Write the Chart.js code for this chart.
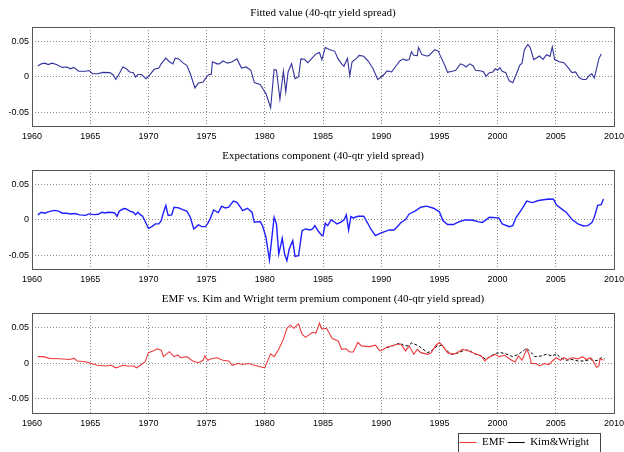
<!DOCTYPE html>
<html>
<head>
<meta charset="utf-8">
<script src="https://cdn.jsdelivr.net/npm/chart.js@4.4.1/dist/chart.umd.min.js"></script>
<style>
  html, body { margin: 0; padding: 0; background: #fff; overflow: hidden; width: 624px; height: 452px; }
  canvas { position: absolute; left: 0; }
</style>
</head>
<body>
<canvas id="c1" width="624" height="150" style="top:0px"></canvas>
<canvas id="c2" width="624" height="150" style="top:143px"></canvas>
<canvas id="c3" width="624" height="172" style="top:286px"></canvas>
<script>
// axis ticks
var xTickValues = [1960, 1965, 1970, 1975, 1980, 1985, 1990, 1995, 2000, 2005, 2010];
var yTickValues = [-0.05, 0, 0.05];
var yTickLabels = ['-0.05', '0', '0.05'];

// panel 1: fitted value
var fittedYears = [
  1960.5,1960.8,1961.1,1961.4,1961.7,1962.1,1962.6,1963.0,1963.3,1963.6,
  1964.0,1964.6,1964.9,1965.2,1965.6,1966.1,1966.7,1967.0,1967.2,1967.5,
  1967.8,1968.1,1968.4,1968.7,1968.9,1969.1,1969.4,1969.8,1970.1,1970.5,
  1970.9,1971.1,1971.5,1971.8,1972.1,1972.3,1972.6,1973.0,1973.3,1973.6,
  1974.0,1974.3,1974.7,1975.0,1975.2,1975.4,1975.5,1975.9,1976.1,1976.4,
  1976.8,1977.2,1977.6,1978.0,1978.4,1978.8,1979.1,1979.6,1979.9,1980.1,
  1980.5,1980.8,1981.0,1981.3,1981.6,1981.8,1982.0,1982.3,1982.6,1982.9,
  1983.1,1983.4,1983.7,1984.0,1984.4,1984.7,1984.9,1985.2,1985.6,1986.0,
  1986.3,1986.6,1986.8,1987.1,1987.3,1987.5,1987.9,1988.1,1988.5,1988.9,
  1989.3,1989.7,1990.0,1990.3,1990.5,1990.9,1991.2,1991.6,1991.9,1992.1,
  1992.4,1992.6,1992.8,1993.1,1993.2,1993.5,1993.9,1994.1,1994.6,1994.9,
  1995.2,1995.5,1995.7,1996.1,1996.4,1996.8,1997.1,1997.3,1997.6,1997.9,
  1998.1,1998.6,1998.8,1999.0,1999.3,1999.6,1999.8,2000.0,2000.2,2000.4,
  2000.7,2001.0,2001.3,2001.6,2001.9,2002.1,2002.3,2002.6,2002.8,2003.1,
  2003.4,2003.6,2003.9,2004.2,2004.5,2004.7,2004.9,2005.3,2005.7,2006.0,
  2006.4,2006.7,2007.0,2007.3,2007.6,2007.9,2008.1,2008.3,2008.5,2008.7,2008.9
];
var fittedValues = [
  0.015,0.018,0.019,0.017,0.019,0.017,0.013,0.0136,0.011,0.013,
  0.0075,0.0075,0.0085,0.004,0.004,0.006,0.0056,0.002,-0.004,0.004,
  0.0136,0.011,0.0066,0.0056,-0.0005,0.003,0.003,-0.003,0.002,0.0103,
  0.012,0.018,0.026,0.021,0.018,0.026,0.025,0.019,0.016,0.004,
  -0.016,-0.009,-0.0075,-0.0005,0.003,0.003,0.021,0.018,0.018,0.022,
  0.019,0.021,0.025,0.012,0.0136,0.009,-0.0085,-0.011,-0.019,-0.024,
  -0.044,0.01,0.009,-0.032,0.0075,-0.0216,0.0066,0.018,-0.003,-0.0005,
  0.025,0.0244,0.0197,0.025,0.032,0.034,0.024,0.041,0.038,0.036,
  0.025,0.018,0.0146,0.026,0.0014,0.021,0.026,0.030,0.0286,0.0216,
  0.011,-0.004,-0.0005,0.004,0.008,0.0066,0.0136,0.022,0.025,0.023,
  0.024,0.035,0.030,0.0296,0.041,0.031,0.029,0.0296,0.038,0.036,
  0.025,0.0146,0.006,0.0075,0.009,0.018,0.016,0.0136,0.018,0.015,
  0.009,0.008,0.0066,0.0005,0.0056,0.0066,0.011,0.009,0.0127,0.0075,
  0.0056,-0.006,-0.0085,0.003,0.016,0.019,0.038,0.0455,0.041,0.024,
  0.027,0.029,0.0244,0.031,0.0286,0.042,0.024,0.021,0.0197,0.0136,
  0.0056,0.0066,-0.0014,-0.004,-0.004,0.002,0.004,-0.002,0.011,0.025,0.032
];

// panel 2: expectations component
var expectYears = [
  1960.5,1960.8,1961.1,1961.4,1961.9,1962.3,1962.6,1963.0,1963.3,1963.7,
  1964.1,1964.6,1964.9,1965.3,1965.7,1966.0,1966.3,1966.5,1966.9,1967.1,
  1967.3,1967.5,1967.9,1968.1,1968.4,1968.7,1968.9,1969.1,1969.3,1969.5,
  1969.8,1970.0,1970.3,1970.6,1970.9,1971.1,1971.3,1971.5,1971.7,1972.0,
  1972.2,1972.6,1973.0,1973.3,1973.6,1973.9,1974.3,1974.6,1974.9,1975.1,
  1975.3,1975.6,1976.0,1976.3,1976.6,1976.9,1977.3,1977.6,1977.9,1978.1,
  1978.5,1978.9,1979.1,1979.6,1979.8,1980.1,1980.4,1980.8,1981.0,1981.2,
  1981.5,1981.7,1981.9,1982.1,1982.4,1982.6,1982.9,1983.2,1983.5,1983.9,
  1984.1,1984.3,1984.6,1984.9,1985.0,1985.2,1985.4,1985.7,1985.9,1986.2,1986.5,
  1986.8,1987.0,1987.2,1987.4,1987.6,1988.0,1988.3,1988.5,1988.8,1989.1,
  1989.5,1989.9,1990.3,1990.7,1991.1,1991.5,1991.7,1992.1,1992.4,1992.9,
  1993.4,1993.9,1994.5,1995.0,1995.3,1995.7,1996.2,1996.7,1997.2,1997.9,
  1998.4,1998.7,1999.3,2000.1,2000.4,2001.0,2001.3,2001.6,2002.1,2002.5,
  2003.0,2003.5,2004.4,2004.8,2005.05,2005.6,2005.9,2006.4,2006.9,2007.4,
  2007.75,2008.1,2008.3,2008.6,2008.9,2009.1
];
var expectValues = [
  0.0066,0.0104,0.009,0.011,0.013,0.012,0.009,0.009,0.008,0.0085,
  0.0066,0.006,0.008,0.007,0.0075,0.0104,0.0094,0.0104,0.010,0.0094,
  0.0047,0.012,0.0156,0.015,0.012,0.0104,0.007,0.0104,0.007,0.0047,
  -0.0052,-0.0123,-0.0099,-0.006,-0.006,-0.0014,0.0104,0.0198,0.0057,0.0066,
  0.0175,0.0165,0.0137,0.012,0.0033,-0.0132,-0.0075,-0.0099,-0.0099,-0.0052,
  0.001,0.0137,0.010,0.019,0.0165,0.0175,0.026,0.0245,0.0175,0.0127,
  0.016,0.0104,-0.0038,-0.0028,-0.0085,-0.025,-0.057,0.0033,-0.006,-0.0486,
  -0.0264,-0.0486,-0.058,-0.0415,-0.0297,-0.052,-0.051,-0.0156,-0.0132,-0.0146,
  -0.0132,-0.0085,-0.0165,-0.0226,-0.0226,-0.0052,-0.0085,-0.0005,-0.0024,-0.006,-0.0038,
  -0.0005,0.0066,-0.0146,0.0042,0.0024,0.0047,0.0047,0.0047,-0.0038,-0.0132,
  -0.0226,-0.0193,-0.017,-0.0146,-0.0146,-0.008,-0.004,0.0,0.008,0.012,
  0.0175,0.019,0.016,0.011,-0.0014,-0.007,-0.007,-0.003,-0.0005,-0.001,
  -0.0033,-0.004,0.0033,0.0024,-0.006,-0.010,-0.0085,0.0033,0.015,0.026,
  0.024,0.027,0.029,0.0288,0.021,0.0137,0.0104,0.0,-0.006,-0.009,
  -0.0085,-0.004,0.003,0.020,0.021,0.029
];

// panel 3: EMF term premium
var emfYears = [
  1960.5,1961.0,1961.5,1962.4,1963.2,1963.6,1963.9,1964.6,1965.1,1965.6,
  1966.3,1966.8,1967.2,1967.5,1967.8,1968.2,1968.7,1969.0,1969.4,1969.7,
  1970.0,1970.4,1970.75,1971.1,1971.3,1971.8,1972.2,1972.5,1972.8,1973.3,
  1973.8,1974.3,1974.7,1974.85,1975.1,1975.4,1975.9,1976.4,1976.9,1977.2,
  1977.7,1978.1,1978.6,1979.1,1979.6,1980.0,1980.2,1980.5,1980.8,1981.2,
  1981.6,1981.9,1982.2,1982.5,1982.7,1982.9,1983.2,1983.5,1984.1,1984.4,
  1984.7,1984.9,1985.3,1985.8,1986.3,1986.6,1986.96,1987.3,1987.6,1988.0,
  1988.3,1989.0,1989.5,1989.9,1990.2,1990.5,1991.1,1991.4,1991.7,1992.1,
  1992.4,1992.8,1993.1,1993.4,1994.0,1994.3,1994.7,1995.0,1995.3,1995.7,
  1996.2,1996.5,1997.0,1997.5,1998.1,1998.6,1998.9,1999.2,1999.8,2000.1,
  2000.6,2001.1,2001.5,2001.8,2002.1,2002.5,2002.7,2002.9,2003.3,2003.6,
  2004.0,2004.4,2004.7,2005.05,2005.4,2005.7,2006.0,2006.4,2006.9,2007.3,
  2007.6,2008.0,2008.3,2008.5,2008.7,2008.8,2009.1
];
var emfValues = [
  0.009,0.009,0.0066,0.006,0.005,0.0066,0.003,0.002,-0.0005,-0.003,
  -0.004,-0.003,-0.0066,-0.005,-0.003,-0.004,-0.004,-0.0066,-0.002,0.0014,
  0.0146,0.017,0.020,0.018,0.009,0.016,0.009,0.0113,0.0075,0.009,
  0.003,0.0005,0.004,0.0099,0.004,0.006,0.0075,0.004,0.003,-0.003,
  -0.0005,-0.002,-0.0005,-0.003,-0.005,-0.0066,0.0014,0.013,0.009,0.0193,
  0.0335,0.0486,0.053,0.0486,0.052,0.0547,0.0405,0.036,0.043,0.042,
  0.056,0.0476,0.0486,0.0344,0.031,0.0193,0.020,0.0156,0.0156,0.0288,
  0.024,0.023,0.025,0.017,0.0193,0.0226,0.025,0.0264,0.0264,0.017,
  0.024,0.0123,0.0193,0.0146,0.0123,0.0146,0.025,0.0288,0.024,0.0146,
  0.0123,0.0146,0.0193,0.017,0.013,0.0099,0.003,0.0075,0.0123,0.009,
  0.011,0.005,0.0014,0.0099,0.004,0.0193,0.0123,-0.0005,-0.0005,-0.004,
  -0.0005,-0.002,0.003,0.0075,0.004,0.0075,0.005,0.0075,0.006,0.009,
  0.005,0.0075,0.0005,-0.0057,-0.004,0.006,0.004
];

// panel 3: Kim & Wright term premium
var kwYears = [
  1990.5,1991.1,1991.6,1991.9,1992.3,1992.6,1992.9,1993.3,1993.6,1994.0,
  1994.3,1994.8,1995.2,1995.5,1996.0,1996.5,1997.0,1997.5,1998.1,1998.6,
  1999.0,1999.4,1999.9,2000.3,2000.8,2001.3,2001.8,2002.3,2002.5,2002.9,
  2003.2,2003.7,2004.2,2004.7,2005.05,2005.4,2005.9,2006.4,2006.9,2007.4,
  2008.0,2008.3,2008.6,2008.9,2009.2
];
var kwValues = [
  0.0217,0.025,0.028,0.025,0.024,0.028,0.0264,0.023,0.0193,0.0146,
  0.017,0.024,0.025,0.0193,0.0123,0.0137,0.017,0.0184,0.0123,0.0099,
  0.005,0.0099,0.0137,0.0146,0.0123,0.009,0.0123,0.0184,0.0208,0.0146,
  0.009,0.0099,0.0123,0.0099,0.013,0.0075,0.004,0.005,0.003,0.003,
  0.005,0.003,0.004,0.0075,0.006
];

function toPoints(xs, ys) {
  return xs.map(function (x, i) { return { x: x, y: ys[i] }; });
}

// MATLAB style box around plot area, plus frame around the legend
var framePlugin = {
  id: 'frame',
  afterLayout: function (chart) {
    // legend sits a bit left of the plot's right edge
    if (chart.legend && chart.legend.options.display) {
      chart.legend.right = 592;
    }
  },
  afterDraw: function (chart) {
    var ctx = chart.ctx, a = chart.chartArea;
    ctx.save();
    ctx.strokeStyle = '#555';
    ctx.lineWidth = 1;
    ctx.strokeRect(Math.round(a.left) + 0.5, Math.round(a.top) + 0.5,
                   Math.round(a.right - a.left), Math.round(a.bottom - a.top));
    var lg = chart.legend;
    if (lg && lg.options.display && lg.legendHitBoxes && lg.legendHitBoxes.length) {
      var hb = lg.legendHitBoxes;
      var l = hb[0].left - 2;
      var r = hb[hb.length - 1].left + hb[hb.length - 1].width + 11;
      var t = lg.top - 1;
      ctx.strokeStyle = '#444';
      ctx.strokeRect(Math.round(l) + 0.5, Math.round(t) + 0.5, Math.round(r - l), 40);
    }
    ctx.restore();
  }
};

function makePanel(id, title, datasets, showLegend) {
  return new Chart(document.getElementById(id), {
    type: 'line',
    data: { datasets: datasets },
    plugins: [framePlugin],
    options: {
      responsive: false,
      animation: false,
      layout: { padding: { left: 0, right: 10, top: 0, bottom: showLegend ? 0 : 3 } },
      elements: { point: { radius: 0 }, line: { tension: 0 } },
      plugins: {
        title: {
          display: true,
          fullSize: false,
          text: title,
          color: '#000',
          font: { family: 'Liberation Serif', size: 11, weight: 'normal' },
          padding: { top: 6.5, bottom: 7.3 }
        },
        legend: {
          display: showLegend,
          position: 'bottom',
          align: 'end',
          labels: {
            usePointStyle: true,
            pointStyle: 'line',
            pointStyleWidth: 17,
            boxHeight: 12,
            padding: 3,
            color: '#000',
            font: { family: 'Liberation Serif', size: 11 }
          }
        },
        tooltip: { enabled: false }
      },
      scales: {
        x: {
          type: 'linear',
          min: 1960,
          max: 2010,
          afterBuildTicks: function (s) {
            s.ticks = xTickValues.map(function (v) { return { value: v }; });
          },
          afterFit: function (s) { s.paddingLeft = 0; s.paddingRight = 0; },
          ticks: {
            color: '#000',
            padding: 5,
            maxRotation: 0,
            autoSkip: false,
            font: { family: 'Liberation Sans', size: 9 },
            callback: function (v) { return String(v); }
          },
          grid: { color: '#8a8a8a', drawTicks: false },
          border: { display: false, dash: [1, 2] }
        },
        y: {
          min: -0.07,
          max: 0.07,
          afterBuildTicks: function (s) {
            s.ticks = yTickValues.map(function (v) { return { value: v }; });
          },
          afterFit: function (s) { s.width = 32; s.paddingTop = 0; s.paddingBottom = 0; },
          ticks: {
            color: '#000',
            padding: 3,
            font: { family: 'Liberation Sans', size: 9 },
            callback: function (v) { return yTickLabels[yTickValues.indexOf(v)]; }
          },
          grid: { color: '#8a8a8a', drawTicks: false },
          border: { display: false, dash: [1, 2] }
        }
      }
    }
  });
}

makePanel('c1', 'Fitted value (40-qtr yield spread)', [{
  label: 'Fitted value',
  data: toPoints(fittedYears, fittedValues),
  borderColor: '#32329c',
  borderWidth: 1.1
}], false);

makePanel('c2', 'Expectations component (40-qtr yield spread)', [{
  label: 'Expectations component',
  data: toPoints(expectYears, expectValues),
  borderColor: '#2020ff',
  borderWidth: 1.4
}], false);

makePanel('c3', 'EMF vs. Kim and Wright term premium component (40-qtr yield spread)', [{
  label: 'EMF',
  data: toPoints(emfYears, emfValues),
  borderColor: '#ee3b3b',
  borderWidth: 1.1
}, {
  label: 'Kim&Wright',
  data: toPoints(kwYears, kwValues),
  borderColor: '#000',
  borderWidth: 1,
  borderDash: [3, 2]
}], true);
</script>
</body>
</html>
